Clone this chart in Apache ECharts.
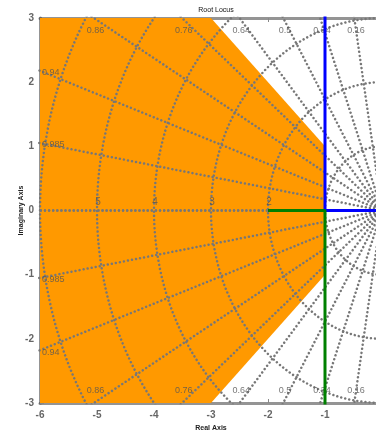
<!DOCTYPE html>
<html><head><meta charset="utf-8">
<script src="https://cdn.jsdelivr.net/npm/echarts@6/dist/echarts.min.js"></script>
<style>html,body{margin:0;padding:0;background:#fff;overflow:hidden}#c{width:376px;height:432px}</style>
</head><body><div id="c"></div>
<script>
// ---- data ----
const xMin = -6, xMax = 0, yMin = -3, yMax = 3;
const zetaValues = [0.16, 0.34, 0.5, 0.64, 0.76, 0.86, 0.94, 0.985];
const zetaLabels = ['0.16', '0.34', '0.5', '0.64', '0.76', '0.86', '0.94', '0.985'];
const wnValues = [1, 2, 3, 4, 5, 6];
const wnLabelValues = [2, 3, 4, 5];
const regionX = [-6, -3, -1, -1, -3, -6];
const regionY = [3, 3, 1, -1, -3, -3];
const locusBlueX = [0, -1, -1];
const locusBlueY = [0, 0, 3.3];
const locusGreenX = [-2, -1, -1];
const locusGreenY = [0, 0, -3.3];

// ---- build ----
const gridStyle = {color: '#777', width: 2.5, type: [0.01, 4.1], cap: 'round'};
const series = [];
series.push({
  type: 'custom', silent: true, z: 1,
  data: [[regionX[0], regionY[0]]],
  renderItem: function (params, api) {
    const pts = regionX.map((x, i) => api.coord([x, regionY[i]]));
    return {type: 'polygon', shape: {points: pts}, style: {fill: '#ff9900'}};
  }
});
const R = 12;
const radial = [1].concat(zetaValues).concat([0]);
radial.forEach(z => {
  const s = Math.sqrt(1 - z * z);
  [1, -1].forEach(sg => {
    series.push({type: 'line', silent: true, z: 3, symbol: 'none', clip: true,
      data: [[0, 0], [-R * z, sg * R * s]], lineStyle: gridStyle});
  });
});
wnValues.forEach(w => {
  const pts = [];
  for (let a = 90; a <= 270; a += 1.5) {
    const t = a * Math.PI / 180;
    pts.push([w * Math.cos(t), w * Math.sin(t)]);
  }
  series.push({type: 'line', silent: true, z: 3, symbol: 'none', clip: true, data: pts, lineStyle: gridStyle});
});
// labels
const lblData = [];
zetaValues.forEach((z, i) => {
  const tn = Math.sqrt(1 - z * z) / z;
  const xc = -yMax / tn;
  if (xc > xMin) {
    lblData.push({value: [xc + 0.03, 2.81], name: zetaLabels[i], label: {position: 'inside'}});
    lblData.push({value: [xc + 0.03, -2.81], name: zetaLabels[i], label: {position: 'inside'}});
  } else {
    const yc = -xMin * tn;
    lblData.push({value: [xMin, yc - 0.03], name: zetaLabels[i], label: {position: 'right', distance: 2}});
    lblData.push({value: [xMin, -yc - 0.03], name: zetaLabels[i], label: {position: 'right', distance: 2}});
  }
});
wnLabelValues.forEach(w => {
  lblData.push({value: [-w, 0], name: String(w), label: {position: 'top', distance: 3, offset: [1, 0], fontSize: 10}});
});
series.push({
  type: 'scatter', silent: true, z: 4, symbolSize: 0, data: lblData,
  label: {show: true, formatter: p => p.name, color: '#555', fontSize: 9,
    fontFamily: 'Liberation Sans'}
});
series.push({type: 'line', silent: true, z: 6, symbol: 'none', clip: true,
  data: locusBlueX.map((x, i) => [x, locusBlueY[i]]),
  lineStyle: {color: '#0000ff', width: 3}});
series.push({type: 'line', silent: true, z: 6, symbol: 'none', clip: true,
  data: locusGreenX.map((x, i) => [x, locusGreenY[i]]),
  lineStyle: {color: '#008000', width: 3}});

const axisLineStyle = {color: 'rgba(60,60,60,0.55)', width: 3};
const chart = echarts.init(document.getElementById('c'));
chart.setOption({
  animation: false,
  title: {text: 'Root Locus', left: 211, top: 2, textAlign: 'center',
    textStyle: {fontSize: 7, fontWeight: 'normal', color: '#111', fontFamily: 'Liberation Sans'}},
  grid: {left: 40, width: 342, top: 18, bottom: 29, containLabel: false, outerBoundsMode: 'none'},
  xAxis: [{
    type: 'value', min: xMin, max: xMax, interval: 1, position: 'bottom',
    name: 'Real Axis', nameLocation: 'middle', nameGap: 20,
    nameTextStyle: {fontSize: 7, fontWeight: 'bold', color: '#222', fontFamily: 'Liberation Sans'},
    axisLine: {show: true, onZero: false, lineStyle: axisLineStyle},
    axisTick: {show: true, inside: true, length: 4, lineStyle: {color: '#888', width: 1}},
    axisLabel: {color: '#666', fontSize: 10, fontWeight: 'bold', margin: 7, fontFamily: 'Liberation Sans'},
    splitLine: {show: false}
  }, {
    type: 'value', min: xMin, max: xMax, interval: 1, position: 'top',
    axisLine: {show: true, onZero: false, lineStyle: axisLineStyle},
    axisTick: {show: true, inside: true, length: 4, lineStyle: {color: '#888', width: 1}},
    axisLabel: {show: false}, splitLine: {show: false}
  }],
  yAxis: [{
    type: 'value', min: yMin, max: yMax, interval: 1, position: 'left',
    name: 'Imaginary Axis', nameLocation: 'middle', nameGap: 15, nameRotate: 90, nameMoveOverlap: false,
    nameTextStyle: {fontSize: 7, fontWeight: 'bold', color: '#222', fontFamily: 'Liberation Sans'},
    axisLine: {show: true, onZero: false, lineStyle: axisLineStyle},
    axisTick: {show: true, inside: true, length: 4, lineStyle: {color: '#888', width: 1}},
    axisLabel: {color: '#666', fontSize: 10, fontWeight: 'bold', margin: 6, fontFamily: 'Liberation Sans'},
    splitLine: {show: false}
  }],
  series: series
});
</script></body></html>
